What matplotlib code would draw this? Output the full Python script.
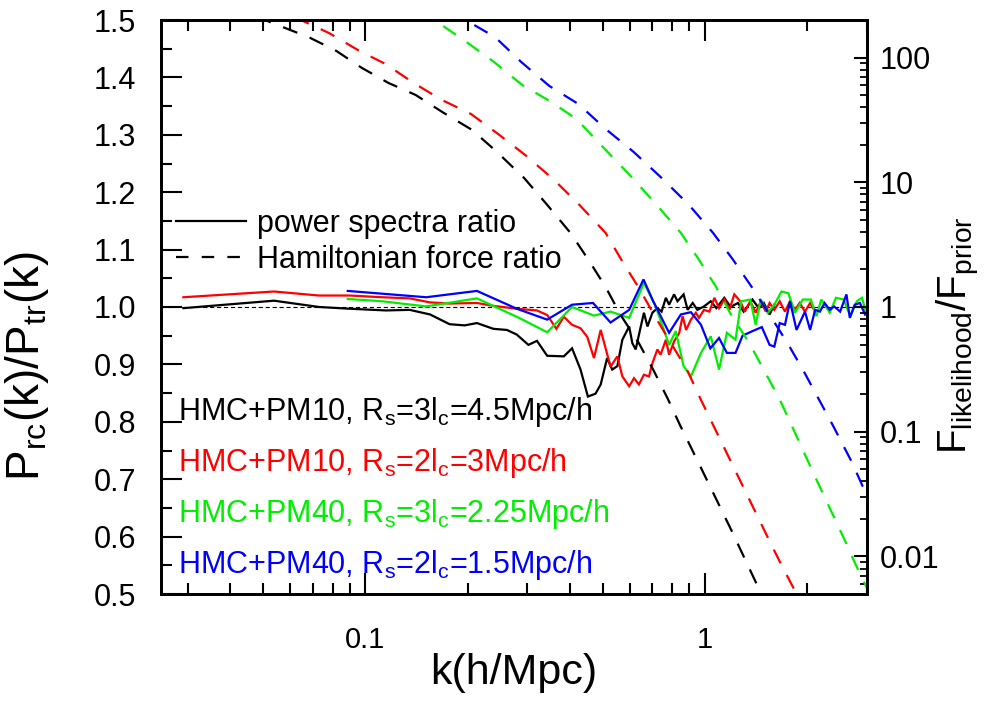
import matplotlib
matplotlib.use('Agg')
import numpy as np
import matplotlib.pyplot as plt
from matplotlib.ticker import MultipleLocator, LogLocator, NullFormatter, FuncFormatter
from matplotlib.lines import Line2D

plt.rcParams['font.family'] = ['Liberation Sans', 'DejaVu Sans']
plt.rcParams['mathtext.fontset'] = 'custom'
plt.rcParams['mathtext.rm'] = 'Liberation Sans'
plt.rcParams['mathtext.it'] = 'Liberation Sans:italic'
plt.rcParams['mathtext.default'] = 'regular'
plt.rcParams['lines.scale_dashes'] = False

# ---------------- data: power spectra ratio (left axis) ----------------
k_black = [0.0291, 0.0538, 0.0731, 0.0897, 0.115, 0.135, 0.155, 0.177, 0.196, 0.213,
           0.238, 0.261, 0.279, 0.302, 0.320, 0.343, 0.384, 0.406, 0.430, 0.452,
           0.476, 0.493, 0.515, 0.533, 0.552, 0.571, 0.598, 0.611, 0.625, 0.647,
           0.661, 0.677, 0.700, 0.724, 0.745, 0.767, 0.784, 0.811, 0.830, 0.865,
           0.889, 0.920, 0.950, 0.993, 1.04, 1.08, 1.14, 1.19, 1.25, 1.30,
           1.38, 1.44, 1.49, 1.55, 1.60]
p_black = [0.998, 1.011, 1.000, 0.997, 0.994, 0.995, 0.987, 0.970, 0.968, 0.972,
           0.962, 0.960, 0.952, 0.934, 0.941, 0.915, 0.914, 0.928, 0.891, 0.844,
           0.849, 0.865, 0.911, 0.891, 0.897, 0.943, 0.966, 0.937, 0.926, 0.966,
           0.990, 0.966, 0.990, 0.998, 0.992, 1.016, 1.004, 1.022, 1.010, 1.022,
           0.995, 1.007, 0.995, 1.001, 1.010, 0.998, 1.016, 1.000, 1.007, 0.992,
           1.013, 0.998, 1.007, 0.987, 1.004]

k_red = [0.0291, 0.0538, 0.073, 0.0897, 0.112, 0.135, 0.155, 0.177, 0.213, 0.238,
         0.279, 0.320, 0.343, 0.365, 0.384, 0.406, 0.430, 0.450, 0.471, 0.493,
         0.527, 0.552, 0.571, 0.598, 0.618, 0.639, 0.661, 0.684, 0.700, 0.724,
         0.740, 0.767, 0.784, 0.811, 0.840, 0.859, 0.880, 0.909, 0.940, 0.960,
         0.993, 1.03, 1.066, 1.10, 1.14, 1.18, 1.22, 1.27, 1.31, 1.36,
         1.41, 1.46, 1.51, 1.55, 1.60, 1.66, 1.72, 1.78, 1.84, 1.90,
         1.97, 2.04, 2.08]
p_red = [1.017, 1.027, 1.020, 1.020, 1.017, 1.015, 1.008, 1.006, 1.007, 1.002,
         0.997, 0.994, 0.986, 0.962, 0.983, 0.969, 0.963, 0.948, 0.911, 0.960,
         0.896, 0.914, 0.879, 0.862, 0.876, 0.865, 0.882, 0.879, 0.902, 0.926,
         0.917, 0.943, 0.917, 0.940, 0.955, 0.984, 0.960, 0.978, 0.990, 0.981,
         0.995, 0.992, 1.016, 0.998, 1.013, 0.995, 1.022, 1.010, 0.992, 1.010,
         0.990, 1.010, 0.992, 1.007, 0.995, 1.010, 0.992, 1.010, 0.995, 1.007,
         0.992, 1.007, 0.998]

k_green = [0.0887, 0.112, 0.151, 0.213, 0.279, 0.343, 0.406, 0.471, 0.527, 0.598,
           0.661, 0.716, 0.784, 0.820, 0.865, 0.909, 0.973, 1.04, 1.10, 1.16,
           1.23, 1.278, 1.36, 1.41, 1.46, 1.53, 1.60, 1.68, 1.76, 1.84,
           1.94, 2.05, 2.13, 2.20, 2.33, 2.43, 2.56, 2.68, 2.80, 2.90, 3.0]
p_green = [1.014, 1.010, 1.001, 1.015, 0.983, 0.956, 1.000, 0.985, 0.992, 0.981,
           1.042, 1.001, 0.934, 0.958, 0.897, 0.879, 0.920, 0.949, 0.891, 0.955,
           0.943, 1.010, 1.013, 0.969, 1.013, 0.990, 1.004, 1.027, 1.024, 0.990,
           1.013, 1.013, 0.984, 1.013, 0.990, 1.016, 1.013, 0.984, 1.010, 1.016, 0.985]

k_blue = [0.0887, 0.151, 0.213, 0.279, 0.343, 0.406, 0.468, 0.527, 0.598, 0.659,
          0.704, 0.784, 0.849, 0.909, 0.973, 1.037, 1.10, 1.16, 1.23, 1.29,
          1.38, 1.47, 1.55, 1.60, 1.66, 1.72, 1.78, 1.86, 1.97, 2.04,
          2.11, 2.18, 2.25, 2.33, 2.40, 2.50, 2.61, 2.67, 2.76, 2.86, 2.96, 3.0]
p_blue = [1.028, 1.017, 1.028, 0.997, 0.978, 1.004, 1.007, 0.973, 0.995, 1.048,
          1.010, 0.955, 0.987, 0.991, 0.969, 0.928, 0.946, 0.920, 0.920, 0.950,
          0.958, 0.965, 0.934, 0.931, 0.972, 0.969, 1.010, 0.960, 0.992, 0.960,
          0.995, 0.992, 1.007, 0.995, 1.001, 0.992, 1.022, 0.981, 1.004, 1.007, 0.987, 0.990]

# ---------------- data: Hamiltonian force ratio (right axis) ----------------
kf_black = [0.040, 0.0520, 0.0683, 0.0821, 0.0973, 0.117, 0.1406, 0.170, 0.206, 0.244,
            0.2935, 0.343, 0.4015, 0.4537, 0.5095, 0.564, 0.638, 0.7066, 0.777, 0.8433,
            0.973, 1.194, 1.464, 1.622]
f_black = [260, 194, 145, 113, 83, 62.5, 50.1, 36, 26.3, 17.5,
           10.8, 6.59, 3.93, 2.39, 1.45, 0.865, 0.516, 0.308, 0.1837, 0.1137,
           0.0514, 0.01637, 0.00503, 0.00284]

kf_red = [0.052, 0.0656, 0.0782, 0.096, 0.1146, 0.1387, 0.1679, 0.2045, 0.2458, 0.2975,
          0.3599, 0.4267, 0.5095, 0.572, 0.638, 0.711, 0.793, 0.885, 0.973, 1.056,
          1.278, 1.568, 1.701, 1.846, 1.990]
f_red = [262, 196, 157, 113, 88.8, 62.5, 45.7, 35.3, 24.4, 16.3,
         10.4, 6.59, 3.93, 2.30, 1.43, 0.849, 0.516, 0.314, 0.180, 0.1137,
         0.039, 0.01242, 0.00798, 0.00522, 0.00341]

kf_green = [0.1445, 0.1644, 0.1963, 0.2391, 0.2894, 0.3527, 0.418, 0.5095, 0.608, 0.716,
            0.849, 0.960, 1.078, 1.194, 1.349, 1.495, 1.656, 1.796, 2.130, 2.560,
            2.779, 2.995, 3.206]
f_green = [240, 189, 136, 92.2, 60.3, 44, 32.2, 18.2, 11.0, 6.71,
           3.93, 2.39, 1.45, 0.865, 0.516, 0.308, 0.1837, 0.1137, 0.0412, 0.01413,
           0.00859, 0.00562, 0.00374]

kf_blue = [0.1772, 0.2017, 0.2408, 0.2875, 0.3479, 0.4238, 0.5095, 0.6166, 0.746, 0.897,
           1.056, 1.210, 1.377, 1.557, 1.748, 1.950, 2.160, 2.375, 2.704, 3.035, 3.317]
f_blue = [238, 193, 146, 92.2, 59.2, 42.4, 26.8, 17.5, 10.8, 6.59,
          3.93, 2.39, 1.43, 0.849, 0.516, 0.308, 0.1837, 0.1137, 0.0574, 0.0285, 0.0170]

colors = ['#000000', '#ff0000', '#00ee00', '#0000ff']
annotation_texts = [r'HMC+PM10, R$_s$=3l$_c$=4.5Mpc/h',
                    r'HMC+PM10, R$_s$=2l$_c$=3Mpc/h',
                    r'HMC+PM40, R$_s$=3l$_c$=2.25Mpc/h',
                    r'HMC+PM40, R$_s$=2l$_c$=1.5Mpc/h']
legend_labels = ['power spectra ratio', 'Hamiltonian force ratio']
x_label = 'k(h/Mpc)'
y_label = r'P$_{rc}$(k)/P$_{tr}$(k)'
y2_label = r'F$_{likelihood}$/F$_{prior}$'

# ---------------- figure ----------------
fig = plt.figure(figsize=(9.95, 7.10), dpi=100)
ax = fig.add_axes([161/995, 1 - 594/710, 706/995, 574/710])
ax.set_xscale('log')
ax.set_xlim(0.025, 3)
ax.set_ylim(0.5, 1.5)

ax2 = ax.twinx()
ax2.set_yscale('log')
ax2.set_ylim(0.005, 200)

ax.axhline(1.0, color='black', lw=0.8, dashes=(3, 2), zorder=1)

solid = [(k_black, p_black), (k_red, p_red), (k_green, p_green), (k_blue, p_blue)]
for (kk, pp), c in zip(solid, colors):
    ax.plot(kk, pp, color=c, lw=1.6, solid_joinstyle='miter')

dashed = [(kf_black, f_black), (kf_red, f_red), (kf_green, f_green), (kf_blue, f_blue)]
for (kk, ff), c in zip(dashed, colors):
    ax2.plot(kk, ff, color=c, lw=1.6, dashes=(11, 9.5))

# ticks
ax.xaxis.set_major_locator(LogLocator(base=10, numticks=10))
ax.xaxis.set_minor_locator(LogLocator(base=10, subs=np.arange(2, 10), numticks=20))
ax.xaxis.set_major_formatter(FuncFormatter(lambda v, p: f'{v:g}'))
ax.xaxis.set_minor_formatter(NullFormatter())
ax.yaxis.set_major_locator(MultipleLocator(0.1))
ax.yaxis.set_minor_locator(MultipleLocator(0.05))
ax.yaxis.set_major_formatter(FuncFormatter(lambda v, p: f'{v:.1f}'))

ax.tick_params(axis='x', which='major', direction='in', length=15, width=1.5,
               top=True, bottom=True, labelsize=21, pad=23)
ax.tick_params(axis='x', which='minor', direction='in', length=8, width=1.5,
               top=True, bottom=True)
ax.tick_params(axis='y', which='major', direction='in', length=15, width=1.5,
               left=True, right=False, labelsize=22, pad=18)
ax.tick_params(axis='y', which='minor', direction='in', length=8, width=1.5,
               left=True, right=False)

ax2.yaxis.set_major_locator(LogLocator(base=10, numticks=15))
ax2.yaxis.set_minor_locator(LogLocator(base=10, subs=np.arange(2, 10), numticks=50))
ax2.yaxis.set_major_formatter(FuncFormatter(lambda v, p: f'{v:g}'))
ax2.yaxis.set_minor_formatter(NullFormatter())
ax2.tick_params(axis='y', which='major', direction='in', length=9.5, width=1.5,
                labelsize=22, pad=9)
ax2.tick_params(axis='y', which='minor', direction='in', length=5, width=1.3)

for a in (ax, ax2):
    for sp in a.spines.values():
        sp.set_linewidth(2)

# labels
ax.set_xlabel(x_label, fontsize=31, va='center')
ax.xaxis.set_label_coords(0.5, -0.138)
ax.set_ylabel(y_label, fontsize=33, va='center', ha='center')
ax.yaxis.set_label_coords(-0.19, 0.397)
ax2.set_ylabel(y2_label, fontsize=29, va='center', ha='center', rotation=90)
ax2.yaxis.set_label_coords(1.129, 0.451)

# legend
handles = [Line2D([], [], color='black', lw=1.6),
           Line2D([], [], color='black', lw=1.6, dashes=(9, 9.5))]
ax.legend(handles, legend_labels, loc='upper left', bbox_to_anchor=(0.021, 0.671),
          frameon=False, fontsize=22, handlelength=2.3, handletextpad=0.35,
          labelspacing=0.2, borderpad=0, borderaxespad=0)

# annotations
text_y = [0.303, 0.214, 0.125, 0.0366]
for t, c, yy in zip(annotation_texts, colors, text_y):
    ax.text(0.024, yy, t, color=c, fontsize=22, transform=ax.transAxes,
            ha='left', va='baseline')

fig.savefig('out.png', dpi=100)
